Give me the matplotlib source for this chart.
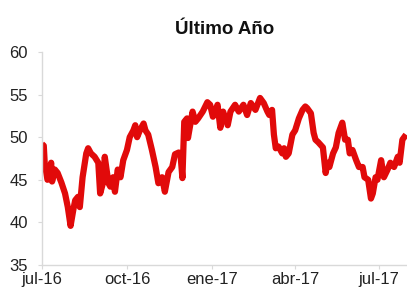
import numpy as np
import matplotlib
matplotlib.use("Agg")
from matplotlib import pyplot as plt
import matplotlib.dates as mdates

plt.rcParams['font.family'] = ['Liberation Sans', 'DejaVu Sans']

# Serie (lectura aproximada del grafico)
fechas = ["2016-07-01", "2016-07-03", "2016-07-04", "2016-07-07", "2016-07-11", "2016-07-12",
          "2016-07-15", "2016-07-18", "2016-07-22", "2016-07-26", "2016-07-29", "2016-08-01",
          "2016-08-04", "2016-08-06", "2016-08-09", "2016-08-11", "2016-08-14", "2016-08-18",
          "2016-08-20", "2016-08-23", "2016-08-27", "2016-08-31", "2016-09-02", "2016-09-05",
          "2016-09-07", "2016-09-11", "2016-09-13", "2016-09-16", "2016-09-18", "2016-09-21",
          "2016-09-24", "2016-09-27", "2016-10-01", "2016-10-04", "2016-10-08", "2016-10-10",
          "2016-10-12", "2016-10-15", "2016-10-19", "2016-10-21", "2016-10-24", "2016-10-28",
          "2016-11-01", "2016-11-04", "2016-11-08", "2016-11-11", "2016-11-15", "2016-11-19",
          "2016-11-22", "2016-11-26", "2016-11-28", "2016-11-30", "2016-12-02", "2016-12-05",
          "2016-12-06", "2016-12-11", "2016-12-14", "2016-12-17", "2016-12-22", "2016-12-27",
          "2016-12-30", "2017-01-02", "2017-01-07", "2017-01-10", "2017-01-13", "2017-01-18",
          "2017-01-21", "2017-01-26", "2017-01-30", "2017-02-04", "2017-02-08", "2017-02-12",
          "2017-02-17", "2017-02-22", "2017-02-26", "2017-03-02", "2017-03-04", "2017-03-07",
          "2017-03-09", "2017-03-11", "2017-03-14", "2017-03-18", "2017-03-20", "2017-03-22",
          "2017-03-25", "2017-03-29", "2017-04-01", "2017-04-05", "2017-04-09", "2017-04-12",
          "2017-04-14", "2017-04-18", "2017-04-21", "2017-04-23", "2017-04-26", "2017-05-01",
          "2017-05-04", "2017-05-06", "2017-05-08", "2017-05-12", "2017-05-15", "2017-05-18",
          "2017-05-22", "2017-05-25", "2017-05-28", "2017-05-30", "2017-06-02", "2017-06-06",
          "2017-06-09", "2017-06-13", "2017-06-15", "2017-06-19", "2017-06-22", "2017-06-24",
          "2017-06-27", "2017-06-29", "2017-07-03", "2017-07-06", "2017-07-10", "2017-07-13",
          "2017-07-17", "2017-07-21", "2017-07-23", "2017-07-26", "2017-07-30"]
valores = [49.2, 49.0, 47.0, 45.0, 47.0, 44.8,
           46.2, 45.8, 44.7, 43.4, 41.8, 39.6,
           41.5, 42.6, 43.0, 41.8, 45.3, 48.1,
           48.7, 48.1, 47.7, 47.0, 43.4, 44.6,
           47.7, 44.6, 44.2, 45.3, 43.6, 46.2,
           45.3, 47.3, 48.5, 50.0, 50.8, 51.4,
           50.0, 50.8, 51.6, 50.8, 50.3, 48.5,
           46.5, 44.6, 45.3, 43.6, 45.9, 46.5,
           48.0, 48.2, 47.9, 45.2, 51.8, 52.2,
           49.9, 53.0, 51.8, 52.2, 53.0, 54.1,
           53.8, 52.4, 53.8, 51.1, 53.0, 51.4,
           53.0, 53.8, 53.0, 53.8, 52.6, 54.0,
           53.2, 54.6, 54.0, 53.0, 52.6, 53.2,
           50.3, 48.7, 48.9, 48.1, 48.7, 47.7,
           48.1, 50.3, 50.8, 52.2, 53.2, 53.6,
           53.4, 52.8, 50.5, 49.7, 49.4, 48.8,
           45.8, 47.0, 46.5, 48.1, 48.8, 50.5,
           51.7, 49.7, 49.7, 48.1, 48.5, 47.3,
           46.5, 46.5, 45.3, 45.0, 42.8, 43.4,
           45.3, 45.0, 47.3, 45.3, 46.2, 47.0,
           46.5, 47.7, 47.0, 49.7, 50.3]

ticks_x = ["2016-07-01", "2016-10-01", "2017-01-01", "2017-04-01", "2017-07-01"]
etiquetas_x = ["jul-16", "oct-16", "ene-17", "abr-17", "jul-17"]
ticks_y = [35, 40, 45, 50, 55, 60]

x = np.array(fechas, dtype="datetime64[D]")
y = np.array(valores)

fig = plt.figure(figsize=(4.07, 2.90), dpi=100)
ax = fig.add_axes([0.103, 0.086, 0.897, 0.735])

ax.plot(x, y, color="#e10a0a", lw=4.5, solid_joinstyle="round", solid_capstyle="butt")

ax.set_xlim(np.datetime64("2016-07-01"), np.datetime64("2017-07-31"))
ax.set_ylim(35, 60)
ax.set_xticks(np.array(ticks_x, dtype="datetime64[D]"))
ax.set_xticklabels(etiquetas_x)
ax.set_yticks(ticks_y)

for s in ["top", "right"]:
    ax.spines[s].set_visible(False)
for s in ["left", "bottom"]:
    ax.spines[s].set_color("#d9d9d9")
    ax.spines[s].set_linewidth(1.0)

ax.tick_params(axis="both", colors="#d9d9d9", labelcolor="#222222", labelsize=12, length=3)
ax.tick_params(axis="y", pad=7)
ax.tick_params(axis="x", pad=2)

ax.set_title("Último Año", fontsize=13.5, fontweight="bold", color="#111111", pad=13)

plt.savefig("out.png", dpi=100)
